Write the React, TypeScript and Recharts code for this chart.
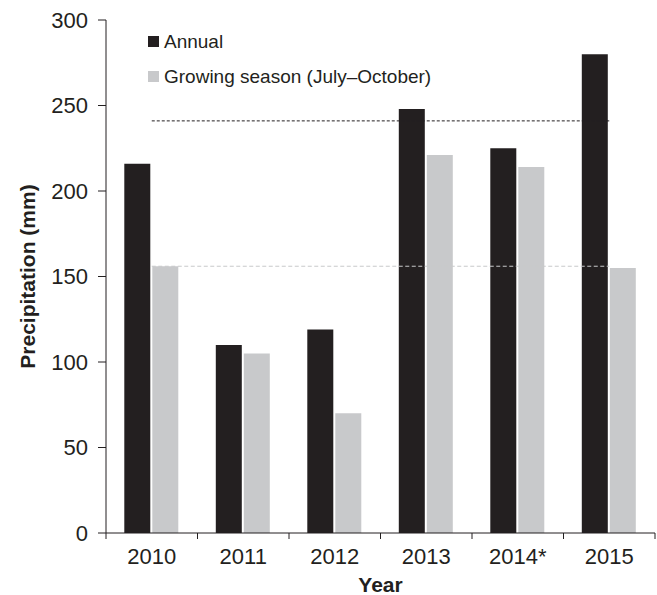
import React from 'react';
import { BarChart, Bar, XAxis, YAxis, ReferenceLine, Legend, Label } from 'recharts';

const years = ['2010', '2011', '2012', '2013', '2014*', '2015'];
const annual = [216, 110, 119, 248, 225, 280];
const growing = [156, 105, 70, 221, 214, 155];
const yTicks = [0, 50, 100, 150, 200, 250, 300];
const annualMean = 241;
const growingMean = 156;

const data = years.map((year, i) => ({ year, annual: annual[i], growing: growing[i] }));

const FONT = "'Liberation Sans', Arial, Helvetica, sans-serif";
const INK = '#231f20';
const GREY = '#c8c9cb';
const X_TICK_SIZE = 6;
const X_TICK_MARGIN = 9;

const YTitle = (props: any) => {
  const vb = props.viewBox || { x: 0, y: 0, width: 0, height: 0 };
  const cx = vb.x + 27;
  const cy = vb.y + vb.height / 2;
  return (
    <text
      x={cx}
      y={cy}
      transform={`rotate(-90 ${cx} ${cy})`}
      textAnchor="middle"
      dominantBaseline="central"
      fontFamily={FONT}
      fontSize={21}
      fontWeight="bold"
      fill={INK}
    >
      Precipitation (mm)
    </text>
  );
};

const XTitle = (props: any) => {
  const vb = props.viewBox || { x: 0, y: 0, width: 0, height: 0 };
  return (
    <text
      x={vb.x + vb.width / 2}
      y={vb.y + vb.height - 3}
      textAnchor="middle"
      fontFamily={FONT}
      fontSize={21}
      fontWeight="bold"
      fill={INK}
    >
      Year
    </text>
  );
};

// Category tick: label centred in the band, tick marks drawn at the band boundaries.
const YearTick = (props: any) => {
  const { x, y, payload, index, visibleTicksCount, width } = props;
  const count = visibleTicksCount || years.length;
  const half = Number(width) / count / 2;
  const axisY = y - X_TICK_SIZE - X_TICK_MARGIN;
  const isLast = index === count - 1;
  return (
    <g>
      <line x1={x - half} y1={axisY} x2={x - half} y2={axisY + X_TICK_SIZE} stroke={INK} strokeWidth={1} />
      {isLast && (
        <line x1={x + half} y1={axisY} x2={x + half} y2={axisY + X_TICK_SIZE} stroke={INK} strokeWidth={1} />
      )}
      <text x={x} y={y} dy="0.71em" textAnchor="middle" fontFamily={FONT} fontSize={22} fill={INK}>
        {payload.value}
      </text>
    </g>
  );
};

const LegendContent = (props: any) => {
  const payload = props.payload || [];
  return (
    <div style={{ fontFamily: FONT, fontSize: 19, color: INK, lineHeight: '19px' }}>
      {payload.map((p: any, i: number) => (
        <div key={i} style={{ height: 34.5, whiteSpace: 'nowrap' }}>
          <span
            style={{
              display: 'inline-block',
              width: 11,
              height: 11,
              background: p.color,
              marginRight: 5,
              verticalAlign: '1px',
            }}
          />
          {p.value}
        </div>
      ))}
    </div>
  );
};

export default function App() {
  return (
    <div style={{ position: 'absolute', left: 0, top: 0, background: '#fff' }}>
      <BarChart
        width={657}
        height={595}
        data={data}
        margin={{ top: 20, right: 2, bottom: 0, left: 0 }}
        barCategoryGap="20%"
        barGap={2}
      >
        <XAxis
          dataKey="year"
          height={62}
          axisLine={{ stroke: INK, strokeWidth: 1 }}
          tickLine={false}
          tickSize={X_TICK_SIZE}
          tickMargin={X_TICK_MARGIN}
          interval={0}
          tick={<YearTick />}
        >
          <Label content={<XTitle />} />
        </XAxis>
        <YAxis
          width={106}
          domain={[0, 300]}
          ticks={yTicks}
          allowDataOverflow
          axisLine={{ stroke: INK, strokeWidth: 1 }}
          tickLine={{ stroke: INK, strokeWidth: 1 }}
          tickSize={8}
          tickMargin={10}
          tick={{ fontFamily: FONT, fontSize: 22, fill: INK }}
        >
          <Label content={<YTitle />} />
        </YAxis>
        <Legend
          layout="vertical"
          align="center"
          verticalAlign="middle"
          content={<LegendContent />}
          wrapperStyle={{ left: 148, top: 32, width: 320, height: 70 }}
        />
        <Bar dataKey="annual" name="Annual" fill={INK} isAnimationActive={false} />
        <Bar dataKey="growing" name="Growing season (July–October)" fill={GREY} isAnimationActive={false} />
        <ReferenceLine
          segment={[
            { x: years[0], y: annualMean },
            { x: years[years.length - 1], y: annualMean },
          ]}
          stroke={INK}
          strokeWidth={1}
          strokeDasharray="3 2"
        />
        <ReferenceLine
          segment={[
            { x: years[0], y: growingMean },
            { x: years[years.length - 1], y: growingMean },
          ]}
          stroke={GREY}
          strokeWidth={1}
          strokeDasharray="4 2.5"
        />
      </BarChart>
    </div>
  );
}
